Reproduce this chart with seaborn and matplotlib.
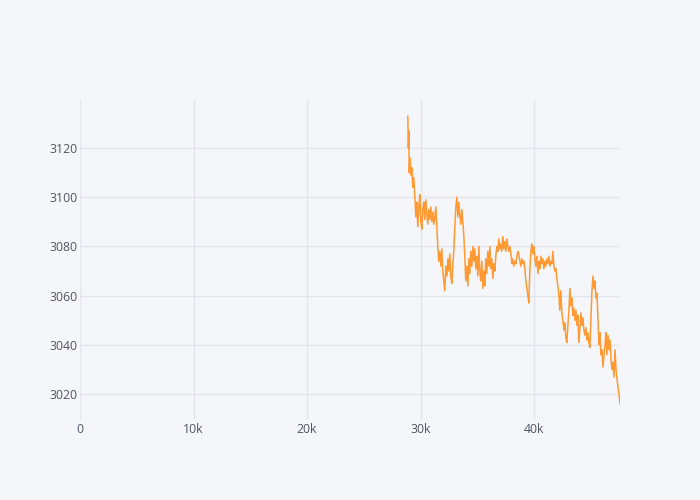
import numpy as np
import pandas as pd
import matplotlib
matplotlib.use("Agg")
import matplotlib.pyplot as plt
from matplotlib.ticker import FuncFormatter
import seaborn as sns

# Values (x = sample index, y = price)
x_vals = [
    28870, 28920, 28960, 29000, 29050, 29140, 29230, 29310, 29400, 29490,
    29580, 29660, 29750, 29840, 29930, 30020, 30110, 30190, 30280, 30370,
    30460, 30550, 30630, 30720, 30810, 30900, 30990, 31070, 31160, 31250,
    31340, 31430, 31510, 31600, 31690,
    31780, 31870, 31950, 32040, 32130, 32220, 32310, 32400, 32480, 32570,
    32660, 32750, 32840, 32920, 33010, 33100, 33190, 33280, 33360, 33450,
    33540, 33630, 33720, 33810, 33890, 33980, 34070, 34160, 34250, 34330,
    34420, 34510, 34600, 34690, 34770,
    34860, 34950, 35040, 35130, 35210, 35300, 35390, 35480, 35570, 35650,
    35740, 35830, 35920, 36010, 36100, 36180, 36270, 36360, 36450, 36540,
    36620, 36710, 36800, 36890, 36980, 37060, 37150, 37240, 37330, 37420,
    37510, 37600, 37680, 37770, 37860,
    37950, 38040, 38120, 38210, 38300, 38390, 38480, 38570, 38650, 38740,
    38830, 38920, 39010, 39090, 39180, 39270, 39360, 39450, 39530, 39620,
    39710, 39800, 39890, 39970, 40060, 40150, 40240, 40330, 40420, 40500,
    40590, 40680, 40770, 40860, 40940,
    41030, 41120, 41210, 41300, 41380, 41470, 41560, 41650, 41740, 41820,
    41910, 42000, 42090, 42180, 42260, 42350, 42440, 42530, 42620, 42700,
    42790, 42880, 42970, 43060, 43150, 43230, 43320, 43410, 43500, 43590,
    43680, 43760, 43850, 43940, 44030,
    44120, 44210, 44290, 44380, 44470, 44560, 44650, 44730, 44820, 44910,
    45000, 45090, 45180, 45260, 45350, 45440, 45530, 45620, 45710, 45790,
    45880, 45970, 46060, 46150, 46240, 46320, 46410, 46500, 46590, 46680,
    46770, 46850, 46940, 47030, 47120, 47210, 47300, 47380, 47470, 47560,
]
y_vals = [
    3133, 3120, 3127, 3110, 3116, 3109, 3112, 3104, 3108, 3100,
    3092, 3098, 3088, 3096, 3101, 3090, 3087, 3095, 3098, 3091,
    3099, 3093, 3089, 3095, 3091, 3096, 3090, 3094, 3089, 3092,
    3096, 3088, 3080, 3074, 3078,
    3072, 3079, 3070, 3066, 3062, 3072, 3068, 3075, 3070, 3077,
    3068, 3065, 3073, 3078, 3088, 3096, 3100, 3092, 3098, 3093,
    3089, 3095, 3090, 3084, 3076, 3066, 3072, 3064, 3075, 3069,
    3078, 3072, 3080, 3074, 3079,
    3071, 3076, 3068, 3080, 3070, 3066, 3074, 3063, 3070, 3064,
    3075, 3069, 3078, 3072, 3080, 3071, 3075, 3067, 3073, 3070,
    3076, 3080, 3078, 3083, 3079, 3081, 3078, 3084, 3079, 3082,
    3078, 3083, 3080, 3078, 3080,
    3077, 3073, 3075, 3072, 3074, 3073, 3076, 3078, 3077, 3074,
    3072, 3075, 3073, 3074, 3071, 3066, 3063, 3060, 3057, 3070,
    3078, 3081, 3077, 3080, 3075, 3072, 3076, 3069, 3074, 3071,
    3076, 3073, 3075, 3071, 3074,
    3072, 3075, 3073, 3076, 3072, 3074, 3073, 3078, 3072, 3070,
    3071, 3067, 3064, 3060, 3054, 3062, 3053, 3050, 3046, 3049,
    3043, 3041, 3048, 3054, 3063, 3056, 3059, 3052, 3055, 3050,
    3054, 3048, 3052, 3041, 3047,
    3053, 3048, 3051, 3046, 3044, 3047, 3042, 3045, 3041, 3039,
    3050, 3062, 3068, 3063, 3066, 3059, 3061, 3050, 3040, 3045,
    3036, 3038, 3031, 3036, 3040, 3045, 3036, 3044, 3038, 3042,
    3034, 3030, 3033, 3027, 3038, 3030, 3026, 3023, 3020, 3016,
]
x_ticks = [0, 10000, 20000, 30000, 40000]
y_ticks = [3020, 3040, 3060, 3080, 3100, 3120]

df = pd.DataFrame({"x": x_vals, "y": y_vals})

bg = "#F5F6F9"
grid = "#E1E5ED"
tick_color = "#4D5663"

sns.set_theme(style="white")
plt.rcParams["font.family"] = ["Open Sans", "DejaVu Sans"]

fig = plt.figure(figsize=(7, 5), dpi=100, facecolor=bg)
ax = fig.add_axes([80 / 700, 80 / 500, 540 / 700, 320 / 500])
ax.set_facecolor(bg)

sns.lineplot(data=df, x="x", y="y", ax=ax, color="#FF9933", linewidth=1.1)

ax.set_xlim(0, 47560)
ax.set_ylim(3009.5, 3139.5)
ax.set_xticks(x_ticks)
ax.set_yticks(y_ticks)
ax.xaxis.set_major_formatter(
    FuncFormatter(lambda v, p: "0" if v == 0 else f"{int(v / 1000)}k")
)
ax.grid(True, color=grid, linewidth=1)
ax.set_axisbelow(True)
for s in ax.spines.values():
    s.set_visible(False)
ax.tick_params(axis="both", length=0, colors=tick_color, labelsize=8.8)
ax.tick_params(axis="x", pad=2.5)
ax.tick_params(axis="y", pad=2)
ax.set_xlabel("")
ax.set_ylabel("")

fig.savefig("out.png", dpi=100, facecolor=bg)
